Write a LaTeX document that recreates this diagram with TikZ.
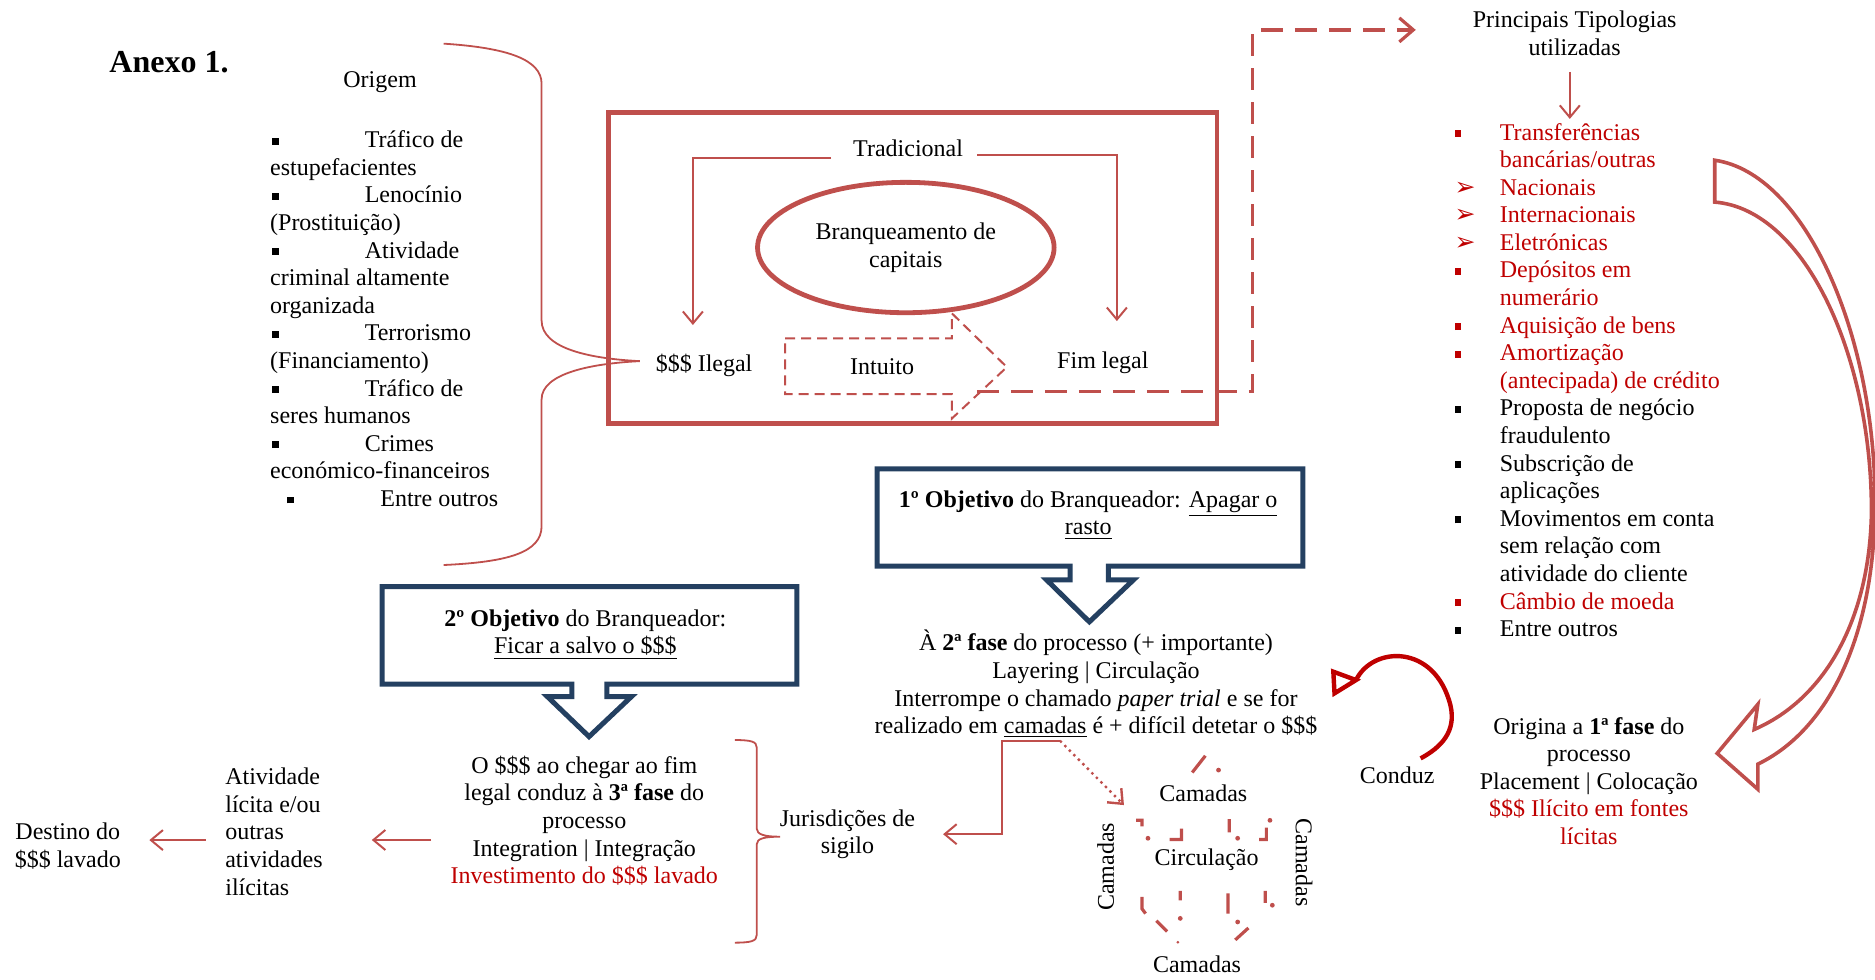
\documentclass[tikz,border=0pt]{standalone}
\usepackage{fontspec}
\setmainfont{Liberation Serif}
\newfontfamily\dingfont{DejaVu Sans}
\usepackage{tikz}
\usetikzlibrary{positioning,calc,arrows.meta,shapes.geometric}
\definecolor{color-1}{rgb}{0.75,0.31,0.30}
\definecolor{color-2}{rgb}{0.75,0,0}
\definecolor{color-3}{rgb}{0.14,0.25,0.38}

\newcommand{\sqbullet}{\rule[0.28ex]{3.4pt}{3.4pt}}
\newcommand{\leftitem}{\makebox[47.3pt][l]{\hspace{0.9pt}\sqbullet}}
\newcommand{\lastitem}{\makebox[55.1pt][l]{\hspace{8.6pt}\sqbullet}}
\newcommand{\rightitem}{\makebox[22.7pt][l]{\sqbullet}}
\newcommand{\arrowitem}{\makebox[22.7pt][l]{\dingfont\fontsize{12.5}{12.5}\selectfont ➢}}
\newcommand{\rightindent}{\hspace*{22.7pt}}

\begin{document}
\begin{tikzpicture}[x=0.598pt,y=-0.598pt,
  every node/.style={inner sep=0pt, align=center, font=\fontsize{12}{13.8}\selectfont},
  arr/.style={draw=color-1, line width=1pt, -{Straight Barb[length=6pt,width=10pt]}},
  box/.style={draw=color-1, line width=2.2pt},
  callout/.style={draw=color-3, line width=2.5pt, line join=miter},
  dashshape/.style={draw=color-1, line width=1pt, dash pattern=on 5pt off 3pt},
  dashlink/.style={draw=color-1, line width=1.6pt, dash pattern=on 11pt off 6pt, -{Straight Barb[length=7pt,width=12pt]}},
  dotarr/.style={draw=color-1, line width=1.2pt, dash pattern=on 1.2pt off 2pt, -{Straight Barb[length=6pt,width=10pt]}},
  brace/.style={draw=color-1, line width=0.9pt},
  frag/.style={draw=color-1, line width=1.6pt},
  conduzline/.style={draw=color-2, line width=2.2pt}]
\useasboundingbox (0,0) rectangle (1568,819);

\node[anchor=west, font=\fontsize{16}{19}\selectfont\bfseries] (anexo) at (91.2,52.3) {Anexo 1.};

% origem
\node (origem) at (317.8,68.7) {Origem};
\node[anchor=west, align=left] (origlist) at (225.6,266.5) {%
\leftitem Tráfico de\\
estupefacientes\\
\leftitem Lenocínio\\
(Prostituição)\\
\leftitem Atividade\\
criminal altamente\\
organizada\\
\leftitem Terrorismo\\
(Financiamento)\\
\leftitem Tráfico de\\
seres humanos\\
\leftitem Crimes\\
económico-financeiros\\
\lastitem Entre outros};
\draw[brace] (371,36.5) .. controls (425,40) and (452.9,50) .. (452.9,70) -- (452.9,268)
  .. controls (452.9,292) and (495,300) .. (535,302)
  .. controls (495,304) and (452.9,312) .. (452.9,334) -- (452.9,440)
  .. controls (452.9,462) and (425,470) .. (371,472.5);

% tradicional
\draw[box] (509,94) rectangle (1017.5,354);
\node[draw=color-1, line width=2.4pt, ellipse, minimum width=148.3pt, minimum height=65.2pt] (branq) at (757.5,207) {Branqueamento de\\capitais};
\node (trad) at (759.4,123.9) {Tradicional};
\node (ilegal) at (588.8,305.3) {\$\$\$ Ilegal};
\node (intuito) at (737.7,306.6) {Intuito};
\node (fim) at (922.3,303.7) {Fim legal};
\draw[arr, shorten <=10.8pt, shorten >=14.2pt] ([yshift=-4.8pt]trad.west) -| ([xshift=-5.6pt]ilegal.north);
\draw[arr, shorten <=7pt, shorten >=15.4pt] ([yshift=-3.4pt]trad.east) -| ([xshift=7pt]fim.north);
\draw[dashshape] (656.6,283) -- (796,283) -- (796,262) -- (842,307) -- (796,350) -- (796,329.5) -- (656.6,329.5) -- cycle;

% tipologias
\node (tipo) at (1316.8,27.85) {Principais Tipologias\\utilizadas};
\coordinate (dstart) at ([xshift=47.4pt,yshift=-12.6pt]intuito.center);
\coordinate (tipin) at ([xshift=-28.3pt,yshift=1.7pt]tipo.west);
\draw[dashlink] (dstart) -- ++(230.5,0) |- (tipin);
\node[anchor=west, align=left] (tiplist) at (1216,317.8) {%
\textcolor{color-2}{\rightitem Transferências}\\
\textcolor{color-2}{\rightindent bancárias/outras}\\
\textcolor{color-2}{\arrowitem Nacionais}\\
\textcolor{color-2}{\arrowitem Internacionais}\\
\textcolor{color-2}{\arrowitem Eletrónicas}\\
\textcolor{color-2}{\rightitem Depósitos em}\\
\textcolor{color-2}{\rightindent numerário}\\
\textcolor{color-2}{\rightitem Aquisição de bens}\\
\textcolor{color-2}{\rightitem Amortização}\\
\textcolor{color-2}{\rightindent (antecipada) de crédito}\\
\rightitem Proposta de negócio\\
\rightindent fraudulento\\
\rightitem Subscrição de\\
\rightindent aplicações\\
\rightitem Movimentos em conta\\
\rightindent sem relação com\\
\rightindent atividade do cliente\\
\textcolor{color-2}{\rightitem Câmbio de moeda}\\
\rightitem Entre outros};
\coordinate (tiptop) at ([xshift=-2.4pt]tipo.south);
\draw[arr, shorten <=8pt, shorten >=1.9pt] (tiptop) -- (tiptop |- tiplist.north);

% big curved arrow
\draw[draw=color-1, line width=1.8pt, line join=miter] (1434,134) .. controls (1510,145) and (1568,280) .. (1568,420)
  .. controls (1568,530) and (1530,610) .. (1470,639) -- (1470,660) -- (1436,630) -- (1470,589) -- (1467,610)
  .. controls (1525,585) and (1563,520) .. (1565,430) .. controls (1566,300) and (1510,175) .. (1434,169) -- cycle;

\node (origina) at (1328.7,653) {Origina a \textbf{1ª fase} do\\processo\\Placement | Colocação\\
\textcolor{color-2}{\$\$\$ Ilícito em fontes}\\\textcolor{color-2}{lícitas}};

% conduz
\node (conduz) at (1168.5,648.1) {Conduz};
\draw[conduzline] (1134,568.7) .. controls (1148,540) and (1200,538) .. (1213,590)
  .. controls (1218,612) and (1205,625) .. (1188,634.2);
\draw[conduzline, line join=miter] (1115,561.7) -- (1134,568.7) -- (1116,579.8) -- cycle;

% 1o objetivo
\draw[callout] (733.5,392) -- (1089.5,392) -- (1089.5,473.5) -- (926.8,473.5) -- (926.8,485) -- (947.8,485)
  -- (911,520) -- (875.3,485) -- (894.8,485) -- (894.8,473.5) -- (733.5,473.5) -- cycle;
\node (obj1) at (910,430.6) {\textbf{1º Objetivo} do Branqueador: \underline{Apagar o}\\\underline{rasto}};
\node (fase2) at (916.5,572.1) {À \textbf{2ª fase} do processo (+ importante)\\Layering | Circulação\\
Interrompe o chamado \textit{paper trial} e se for\\realizado em \underline{camadas} é + difícil detetar o \$\$\$};

% camadas
\node (camT) at (1006.3,663.4) {Camadas};
\node (circ) at (1009,719.2) {Circulação};
\node[rotate=90] (camL) at (924.7,724.8) {Camadas};
\node[rotate=-90] (camR) at (1090.6,721.3) {Camadas};
\node (camB) at (1001,806) {Camadas};
\draw[frag] (997,646) -- (1008,632)
  (950,686) -- (955,686) -- (955,691)
  (978,702) -- (988,702) -- (988,693)
  (1028,685) -- (1028,696)
  (1053,702) -- (1059,702) -- (1059,692)
  (955,750) -- (955,760) -- (958,764)
  (987,745) -- (987,753)
  (1027,747) -- (1027,764)
  (1058,745) -- (1058,755)
  (967,770) -- (976,779)
  (1033,786) -- (1044,776);
\fill[color-1] (1019,644) circle (2) (960,701) circle (2) (1035,701) circle (2) (1062,686) circle (2)
  (1064,757) circle (2) (987,768) circle (2) (1035,771) circle (2) (985,788) circle (1.2);

% 2o objetivo
\draw[callout] (319.5,490.6) -- (666.3,490.6) -- (666.3,572) -- (507.6,572) -- (507.6,582.6) -- (528,582.6)
  -- (492.6,616) -- (457.8,582.6) -- (478.2,582.6) -- (478.2,572) -- (319.5,572) -- cycle;
\node (obj2) at (489.5,530.8) {\textbf{2º Objetivo} do Branqueador:\\\underline{Ficar a salvo o \$\$\$}};
\node (integ) at (488.6,686.4) {O \$\$\$ ao chegar ao fim\\legal conduz à \textbf{3ª fase} do\\processo\\
Integration | Integração\\\textcolor{color-2}{Investimento do \$\$\$ lavado}};
\node (juris) at (708.7,697.6) {Jurisdições de\\sigilo};
\draw[brace] (614.6,618.8) .. controls (628,619) and (632.8,620) .. (632.8,625) -- (632.8,693)
  .. controls (632.8,698) and (640,699.7) .. (652.3,699.7)
  .. controls (640,699.7) and (632.8,701) .. (632.8,706) -- (632.8,782)
  .. controls (632.8,787) and (628,788.3) .. (614.6,788.3);
\node[anchor=west, align=left] (act) at (188.1,695.5) {Atividade\\lícita e/ou\\outras\\atividades\\ilícitas};
\node (dest) at (56.7,707.3) {Destino do\\\$\$\$ lavado};

% ligacoes
\coordinate (cam) at ([xshift=-18pt,yshift=-1.2pt]fase2.south);
\coordinate (camtip) at ([xshift=-17.5pt,yshift=-5.9pt]camT.west);
\draw[arr, shorten >=13.8pt] (cam) -- ++(-48.7,0) |- (juris.east);
\draw[dotarr] (cam) -- (camtip);
\coordinate (integout) at ([yshift=-9.6pt]integ.west);
\draw[arr, shorten <=9.6pt, shorten >=24.4pt] (integout) -- (integout -| act.east);
\coordinate (actout) at ([yshift=-4.2pt]act.west);
\draw[arr, shorten <=9.6pt, shorten >=14.1pt] (actout) -- (actout -| dest.east);
\end{tikzpicture}
\end{document}
